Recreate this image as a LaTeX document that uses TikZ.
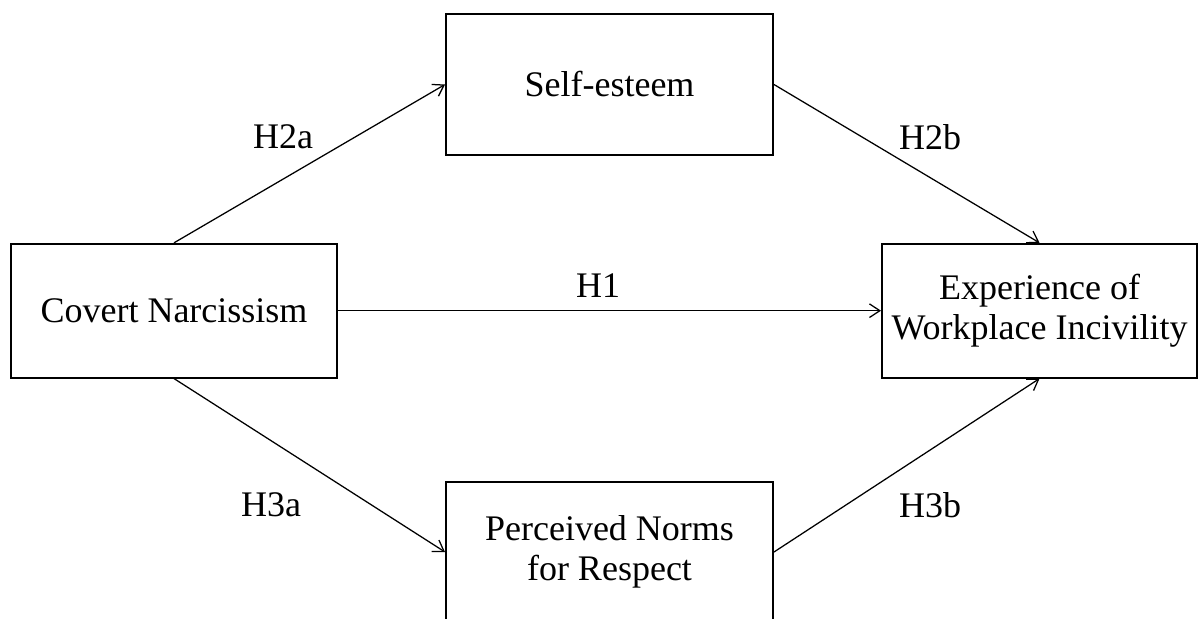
\documentclass[tikz,border=0pt]{standalone}
\usepackage{fontspec}
\setmainfont{Liberation Serif}
\usepackage{tikz}
\usetikzlibrary{arrows.meta,positioning}
\tikzset{
  varbox/.style={draw=black,line width=1.2pt,fill=white,align=center,
    font=\fontsize{25.6}{28.5}\selectfont,inner sep=0pt},
  effect/.style={line width=0.9pt,black,-{Straight Barb[length=2.6mm,width=3.4mm]}},
  hyplabel/.style={font=\fontsize{25.6}{28.5}\selectfont,inner sep=0pt}
}

\begin{document}
\begin{tikzpicture}[x=0.025cm,y=0.025cm]
  \useasboundingbox (0,0) rectangle (1200,618);
  \node[varbox,minimum width=8.15cm,minimum height=3.35cm] (covert) at (174,307.3) {Covert Narcissism};
  \node[varbox,minimum width=8.18cm,minimum height=3.52cm] (esteem) at (609.5,533.5) {Self-esteem};
  \node[varbox,minimum width=7.88cm,minimum height=3.35cm] (incivility) at (1039.5,307.3) {Experience of\\Workplace Incivility};
  \node[varbox,minimum width=8.18cm,minimum height=3.5cm] (norms) at (609.5,66) {Perceived Norms\\for Respect};
  \draw[effect] (covert.north) -- (esteem.west);
  \draw[effect] (esteem.east) -- (incivility.north);
  \draw[effect] (covert.east) -- (incivility.west);
  \draw[effect] (covert.south) -- (norms.west);
  \draw[effect] (norms.east) -- (incivility.south);
  \node[hyplabel] (h2a) at (283,481) {H2a};
  \node[hyplabel] (h2b) at (930,481) {H2b};
  \node[hyplabel] (h1) at (598,332) {H1};
  \node[hyplabel] (h3a) at (271,113) {H3a};
  \node[hyplabel] (h3b) at (930,113) {H3b};
\end{tikzpicture}
\end{document}
